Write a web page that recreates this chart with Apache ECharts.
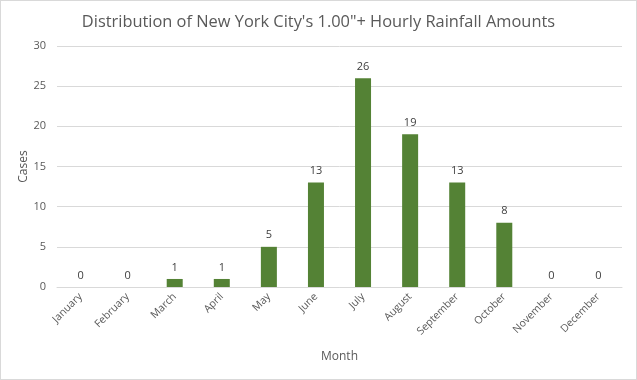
<!DOCTYPE html>
<html><head><meta charset="utf-8">
<script src="https://cdn.jsdelivr.net/npm/echarts@6/dist/echarts.min.js"></script>
<style>html,body{margin:0;padding:0;background:#fff}#c{width:637px;height:380px;box-sizing:border-box;border:1px solid #d9d9d9}</style>
</head><body><div id="c"></div>
<script>
const months = ['January','February','March','April','May','June','July','August','September','October','November','December'];
const cases = [0,0,1,1,5,13,26,19,13,8,0,0];
const yTicks = {min:0, max:30, interval:5};
const chart = echarts.init(document.getElementById('c'));
const font = 'Open Sans';
chart.setOption({
  animation:false,
  title:{text:'Distribution of New York City\'s 1.00"+ Hourly Rainfall Amounts',left:'center',top:8,
    textStyle:{fontFamily:font,fontSize:16.4,fontWeight:'normal',color:'#595959'}},
  grid:{left:56,right:14,top:45,bottom:92,containLabel:false,outerBoundsMode:'none'},
  xAxis:{type:'category',data:months,name:'Month',nameLocation:'middle',nameGap:64,nameMoveOverlap:false,
    nameTextStyle:{fontFamily:font,fontSize:12,color:'#595959'},
    axisLine:{lineStyle:{color:'#d9d9d9'}},axisTick:{show:false},
    axisLabel:{rotate:45,interval:0,fontFamily:font,fontSize:10.5,color:'#595959',margin:8}},
  yAxis:{type:'value',min:yTicks.min,max:yTicks.max,interval:yTicks.interval,name:'Cases',nameLocation:'middle',nameGap:27,nameMoveOverlap:false,
    nameTextStyle:{fontFamily:font,fontSize:12,color:'#595959'},
    axisLine:{show:false},axisTick:{show:false},
    splitLine:{lineStyle:{color:'#d9d9d9'}},
    axisLabel:{fontFamily:font,fontSize:11,color:'#595959',margin:11}},
  series:[{type:'bar',data:cases,barWidth:16,itemStyle:{color:'#548235'},
    label:{show:true,position:'top',distance:6,fontFamily:font,fontSize:11,color:'#404040'}}]
});
</script></body></html>
